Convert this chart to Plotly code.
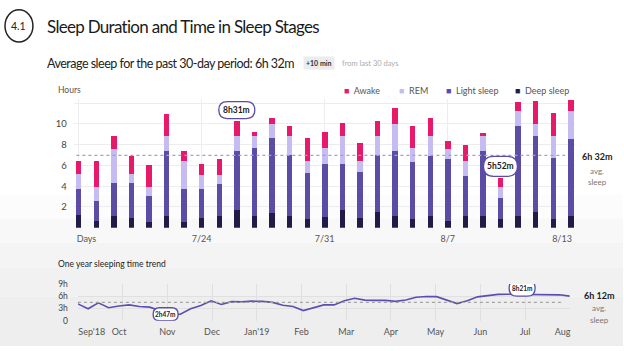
import numpy as np
import plotly.graph_objects as go

# ---------------- data ----------------
days = list(range(1, 30))
deep = [1.17, 0.61, 1.14, 0.92, 0.55, 1.14, 0.58, 0.92, 1.14, 1.67,
        1.14, 1.39, 1.14, 0.80, 1.05, 1.67, 0.92, 1.49, 1.14, 0.80,
        1.14, 0.66, 1.14, 1.14, 0.83, 1.14, 1.48, 0.83, 1.14]
light = [2.53, 1.91, 3.19, 3.41, 2.52, 6.21, 3.12, 2.78, 3.06, 5.68,
         6.52, 7.21, 5.87, 4.49, 5.08, 4.46, 4.40, 5.52, 6.24, 5.52,
         5.77, 5.98, 3.80, 6.24, 2.03, 8.68, 7.34, 5.93, 7.43]
rem = [1.44, 1.40, 3.24, 0.83, 0.88, 1.47, 2.69, 1.41, 0.91, 1.47,
       1.19, 1.43, 1.84, 1.12, 1.50, 2.69, 1.07, 1.81, 2.65, 1.31,
       1.91, 0.96, 1.44, 1.44, 1.06, 1.43, 1.21, 2.09, 2.68]
awake = [1.25, 2.47, 1.25, 1.76, 2.09, 2.09, 0.96, 1.03, 1.54, 1.46,
         0.34, 0.51, 0.94, 2.19, 1.56, 1.25, 1.74, 1.50, 1.47, 2.19,
         1.72, 0.76, 1.62, 0.34, 0.84, 0.85, 2.22, 2.18, 1.10]
day_tick_pos = [1.45, 8, 15, 22, 28.5]
day_tick_text = ["Days", "7/24", "7/31", "8/7", "8/13"]
day_grid_pos = [1, 8, 15, 22, 29]
hour_ticks = [2, 4, 6, 8, 10, 12]
hour_tick_text = ["2", "4", "6", "8", "10", ""]
avg_30 = 6.97

trend = [4.13, 2.94, 4.40, 3.20, 3.60, 3.89, 3.50, 3.33, 2.50, 1.59,
         1.59, 2.95, 3.73, 4.90, 4.00, 4.68, 4.62, 4.80, 4.75, 4.50,
         3.81, 3.50, 2.50, 3.20, 3.89, 3.89, 4.90, 5.50, 5.05, 5.00,
         5.00, 4.75, 5.10, 5.75, 5.95, 5.90, 5.00, 4.21, 4.90, 5.85,
         6.15, 6.45, 6.51, 6.51, 6.51, 6.51, 6.47, 6.35, 6.03]
months = ["Sep'18", "Oct", "Nov", "Dec", "Jan'19", "Feb", "Mar",
          "Apr", "May", "Jun", "Jul", "Aug"]
month_tick_pos = [0.31, 0.92, 2, 3, 4, 5, 6, 7, 8, 9, 10, 10.84]
month_grid_pos = list(range(12))
trend_ticks = [0, 3, 6, 9]
trend_tick_text = ["0", "3h", "6h", "9h"]
trend_avg = 4.5

C_AWAKE = "#e8196a"
C_REM = "#c6bcf1"
C_LIGHT = "#5b4ca6"
C_DEEP = "#211c47"

W, H = 624, 351
def px(x):
    return x / W
def py(y):
    return 1 - y / H

FONT = "Lato"

fig = go.Figure()
for name, vals, col in [("Deep sleep", deep, C_DEEP), ("Light sleep", light, C_LIGHT),
                        ("REM", rem, C_REM), ("Awake", awake, C_AWAKE)]:
    fig.add_trace(go.Bar(x=days, y=vals, name=name, marker=dict(color=col, line_width=0),
                         width=0.31, xaxis="x", yaxis="y", showlegend=False))

trend_x = np.linspace(0, 11, len(trend))
fig.add_trace(go.Scatter(x=trend_x, y=trend, mode="lines", line=dict(color="#5a4fb0", width=1.6),
                         xaxis="x2", yaxis="y2", showlegend=False))

fig.update_layout(
    width=W, height=H, margin=dict(l=0, r=0, t=0, b=0),
    paper_bgcolor="white", plot_bgcolor="rgba(0,0,0,0)",
    barmode="stack", bargap=0,
    font=dict(family=FONT, color="#333"),
    xaxis=dict(domain=[px(74), px(576)], range=[0.733, 29.244], tickvals=day_tick_pos,
               ticktext=day_tick_text, showgrid=False, zeroline=False, ticks="",
               tickfont=dict(size=9, color="#555"), ticklabelstandoff=4,
               minor=dict(tickvals=day_grid_pos, showgrid=True, gridcolor="#ededed", gridwidth=1, ticks="")),
    yaxis=dict(domain=[py(229.2), py(96.8)], range=[0, 12.4], tickvals=hour_ticks,
               ticktext=hour_tick_text, showgrid=True, gridcolor="#ededed", zeroline=False,
               ticks="", tickfont=dict(size=9.5, color="#444"), ticklabelstandoff=6),
    xaxis2=dict(domain=[px(78), px(570.7)], range=[0, 11], tickvals=month_tick_pos,
                ticktext=months, showgrid=False, zeroline=False, ticks="",
                tickfont=dict(size=9, color="#555"), anchor="y2", ticklabelstandoff=4,
                minor=dict(tickvals=month_grid_pos, showgrid=True, gridcolor="#e0e0e0", ticks="")),
    yaxis2=dict(domain=[py(325), py(287.2)], range=[0, 9], tickvals=trend_ticks,
                ticktext=trend_tick_text, showgrid=True, gridcolor="#e0e0e0", zeroline=False,
                ticks="", tickfont=dict(size=8.5, color="#444"), anchor="x2", ticklabelstandoff=9),
)

shapes = []
for y0, y1, c in [(195, 220, "#fcfcfc"), (220, 245, "#f8f8f8"), (245, 270, "#f4f4f4"),
                  (270, 300, "#f1f1f1"), (300, 351, "#eeeeee")]:
    shapes.append(dict(type="rect", xref="paper", yref="paper", x0=0, x1=1, y0=py(y1), y1=py(y0),
                       fillcolor=c, line_width=0, layer="below"))
shapes += [
    dict(type="circle", xref="paper", yref="paper", x0=px(5), x1=px(33), y0=py(38), y1=py(5),
         line=dict(color="#222", width=1.5)),
    dict(type="line", xref="x domain", yref="y", x0=0.005, x1=0.98, y0=avg_30, y1=avg_30,
         line=dict(color="#a69ed3", width=1.3, dash="dot")),
    dict(type="line", xref="x2 domain", yref="y2", x0=0.0, x1=0.985, y0=trend_avg, y1=trend_avg,
         line=dict(color="#a5a5a5", width=1.3, dash="dot")),
]

def pill(xref, yref, xa, ya, w, h, dy=0, color="#5b4ca6"):
    r = h / 2
    hw = w / 2
    path = (f"M{-hw + r},{dy - r} L{hw - r},{dy - r} Q{hw},{dy - r} {hw},{dy} "
            f"Q{hw},{dy + r} {hw - r},{dy + r} L{-hw + r},{dy + r} "
            f"Q{-hw},{dy + r} {-hw},{dy} Q{-hw},{dy - r} {-hw + r},{dy - r} Z")
    return dict(type="path", xref=xref, yref=yref, xsizemode="pixel", ysizemode="pixel",
                xanchor=xa, yanchor=ya, path=path, fillcolor="white",
                line=dict(color=color, width=1.3), layer="above")

tot = [d + l + r + a for d, l, r, a in zip(deep, light, rem, awake)]
i1, i2 = 9, 24
shapes.append(pill("x", "y", days[i1], tot[i1], 36, 17, dy=11))
shapes.append(pill("x", "y", days[i2], tot[i2], 34, 20, dy=12))
imin = int(np.argmin(trend[:20]))
shapes.append(pill("x2", "y2", trend_x[imin] - 0.1, trend[imin], 25, 13, dy=0))
ipk = 43
shapes.append(pill("x2", "y2", trend_x[ipk] + 0.08, trend[ipk], 26, 16, dy=6))
fig.update_layout(shapes=shapes)

ann = []
def A(x, y, text, size, color="#222", xanchor="left", bold=False, family=FONT, **kw):
    if bold:
        text = f"<b>{text}</b>"
    ann.append(dict(x=px(x), y=py(y), xref="paper", yref="paper", text=text, showarrow=False,
                    xanchor=xanchor, yanchor="middle", font=dict(size=size, color=color, family=family), **kw))

A(19, 22, "4.1", 10.5, xanchor="center")
A(45, 22, "<span style='letter-spacing:-0.7px'>Sleep Duration and Time in Sleep Stages</span>",
  17, color="#1a1a1a")
A(45, 60, "<span style='letter-spacing:-0.5px'>Average sleep for the past 30-day period: 6h 32m</span>",
  12.5, color="#222")
ann.append(dict(x=px(320), y=py(60), xref="paper", yref="paper", text="<b>+10 min</b>", showarrow=False,
                xanchor="center", yanchor="middle", bgcolor="#ececec", borderpad=2,
                font=dict(size=7, color="#333", family=FONT)))
A(341, 60, "from last 30 days", 7.5, color="#aaa")
A(56, 88, "Hours", 8.5, color="#555")

legend_items = [("Awake", C_AWAKE, 343), ("REM", C_REM, 398), ("Light sleep", C_LIGHT, 445),
                ("Deep sleep", C_DEEP, 514)]
for name, col, x in legend_items:
    A(x, 87.5, f"<span style='color:{col}'>■</span>  {name}", 9, color="#555")

A(598, 156, "6h 32m", 9, color="#222", xanchor="center", bold=True)
A(598, 171, "avg.", 8, color="#777", xanchor="center")
A(598, 182, "sleep", 8, color="#777", xanchor="center")

A(56, 267, "One year sleeping time trend", 8.5, color="#222")
A(600, 299, "6h 12m", 9, color="#222", xanchor="center", bold=True)
A(600, 312, "avg.", 8, color="#777", xanchor="center")
A(600, 324, "sleep", 8, color="#777", xanchor="center")

# box labels anchored to data
ann.append(dict(x=days[i1], y=tot[i1], xref="x", yref="y", text="<b>8h31m</b>", showarrow=False,
                yshift=11, font=dict(size=8.5, color="#222", family=FONT)))
ann.append(dict(x=days[i2], y=tot[i2], xref="x", yref="y", text="<b>5h52m</b>", showarrow=False,
                yshift=12, font=dict(size=8.5, color="#222", family=FONT)))
ann.append(dict(x=trend_x[imin] - 0.1, y=trend[imin], xref="x2", yref="y2", text="<b>2h47m</b>",
                showarrow=False, font=dict(size=6.5, color="#222", family=FONT)))
ann.append(dict(x=trend_x[ipk] + 0.08, y=trend[ipk], xref="x2", yref="y2", text="<b>8h21m</b>",
                showarrow=False, yshift=6, font=dict(size=6.5, color="#222", family=FONT)))
fig.update_layout(annotations=ann)

fig.write_html("out.html")
